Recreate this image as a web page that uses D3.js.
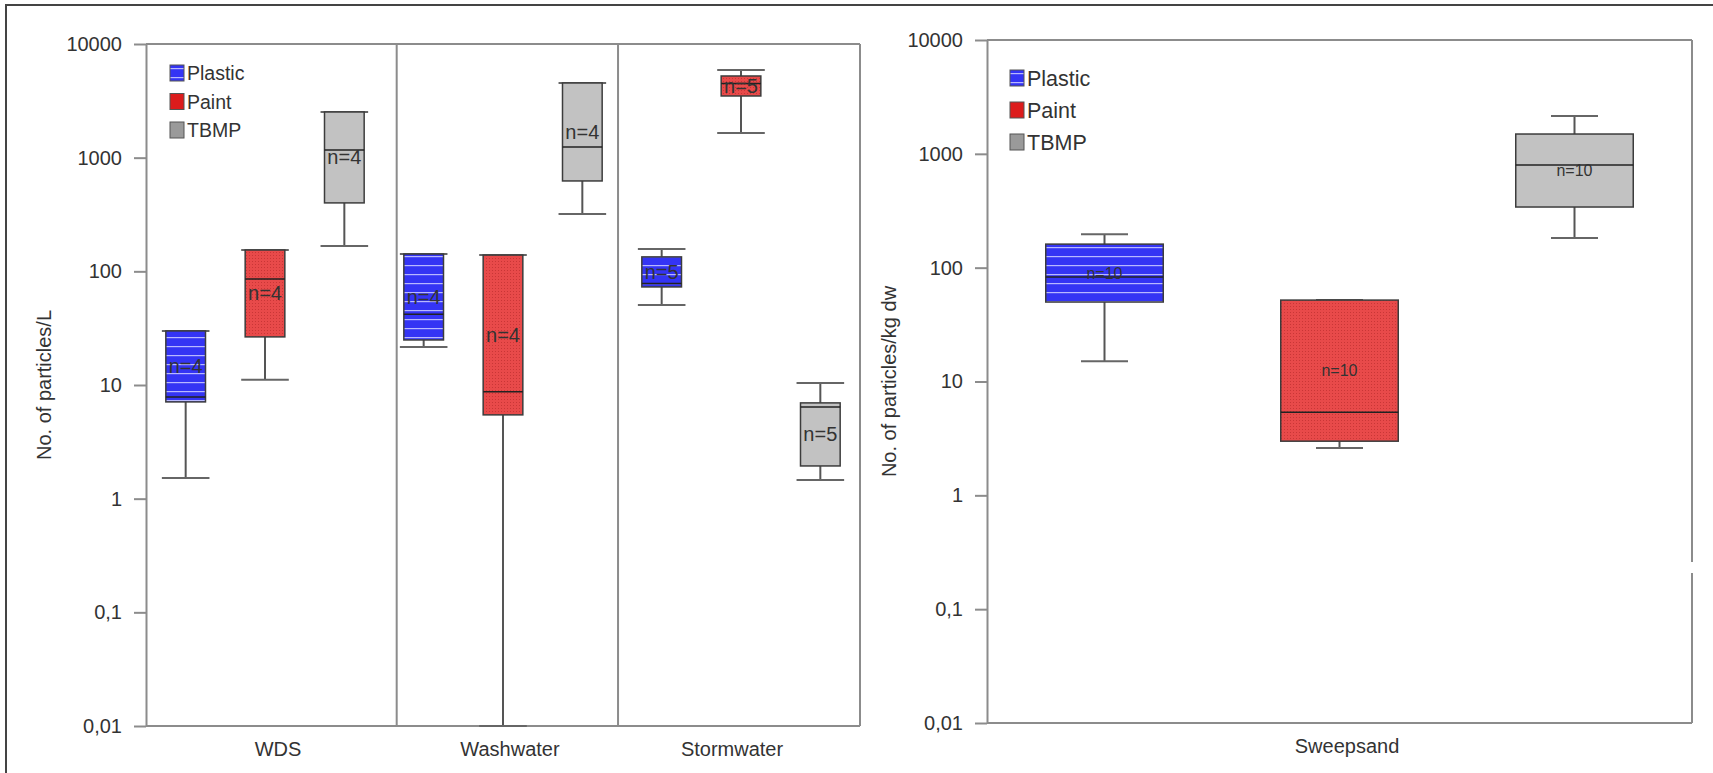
<!DOCTYPE html>
<html>
<head>
<meta charset="utf-8">
<script src="https://cdn.jsdelivr.net/npm/d3@7"></script>
<style>
  body { margin: 0; background: #fff; }
  text { font-family: Arial, "Liberation Sans", sans-serif; fill: #333; }
</style>
</head>
<body>
<div id="chart"></div>
<script>
const WIDTH = 1713
const HEIGHT = 773

// left panel: 3 sites x 3 particle types (No. of particles/L)
const sites = ['WDS', 'Washwater', 'Stormwater'];
const types = ['Plastic', 'Paint', 'TBMP'];
const leftLow    = [1.52, 11.1, 167,   21.6, 0.01, 320,   50.6, 1650, 1.46];
const leftQ1     = [7.1,  26.5, 400,   24.9, 5.46, 624,   72.9, 3489, 1.94];
const leftMedian = [7.86, 85.7, 1169,  42,   8.7,  1242,  78,   4500, 6.4];
const leftQ3     = [29.9, 154,  2523,  142,  139,  4540,  134,  5231, 6.96];
const leftHigh   = [29.9, 154,  2523,  142,  139,  4540,  157,  5908, 10.4];
const leftN      = [4, 4, 4,  4, 4, 4,  5, 5, 5];

// right panel: sweepsand (No. of particles/kg dw)
const rightLow    = [15.1, 2.6,  182];
const rightQ1     = [49.9, 2.99, 341];
const rightMedian = [82.7, 5.38, 797];
const rightQ3     = [161,  51.9, 1493];
const rightHigh   = [197,  51.9, 2148];
const rightN      = [10, 10, 10];

const tickValues = [0.01, 0.1, 1, 10, 100, 1000, 10000];
const fmt = d => String(d).replace('.', ',');

var svg = d3.select("#chart").append("svg")
    .attr("width", WIDTH)
    .attr("height", HEIGHT);

// fill patterns
var defs = svg.append("defs");
var stripes = defs.append("pattern")
    .attr("id", "stripes")
    .attr("patternUnits", "userSpaceOnUse")
    .attr("width", 10).attr("height", 9);
stripes.append("rect").attr("width", 10).attr("height", 9).attr("fill", "#3434f4");
stripes.append("rect").attr("y", 4).attr("width", 10).attr("height", 1.2).attr("fill", "#b8b8ff");

var dots = defs.append("pattern")
    .attr("id", "dots")
    .attr("patternUnits", "userSpaceOnUse")
    .attr("width", 3).attr("height", 3);
dots.append("rect").attr("width", 3).attr("height", 3).attr("fill", "#e84a4a");
dots.append("rect").attr("width", 1).attr("height", 1).attr("fill", "#c93636");

const FILLS = ['url(#stripes)', 'url(#dots)', '#c2c2c2'];
const LEGEND_FILLS = ['url(#stripes)', '#dc1c1c', '#9a9a9a'];

// outer frame
svg.append("rect")
    .attr("x", 6).attr("y", 5)
    .attr("width", WIDTH).attr("height", HEIGHT)
    .attr("fill", "none")
    .attr("stroke", "#444")
    .attr("stroke-width", 2);

const drawPanel = (opt) => {
    var g = svg.append("g");
    var yScale = d3.scaleLog()
        .domain([0.01, 10000])
        .range([opt.bottom, opt.top]);
    var xScale = d3.scaleBand()
        .domain(d3.range(opt.low.length))
        .range([opt.left, opt.right])
        .padding(0);
    var bw = xScale.bandwidth();

    // frame lines (top, right, bottom)
    g.append("line").attr("x1", opt.left).attr("x2", opt.right)
        .attr("y1", opt.top).attr("y2", opt.top);
    g.append("line").attr("x1", opt.left).attr("x2", opt.right)
        .attr("y1", opt.bottom).attr("y2", opt.bottom);
    (opt.rightSegments || [[opt.top, opt.bottom]]).forEach(s => {
        g.append("line").attr("x1", opt.right).attr("x2", opt.right)
            .attr("y1", s[0]).attr("y2", s[1]);
    });
    (opt.separators || []).forEach(s => {
        var x = opt.left + s * bw;
        g.append("line").attr("x1", x).attr("x2", x)
            .attr("y1", opt.top).attr("y2", opt.bottom);
    });
    g.selectAll("line")
        .attr("stroke", "#8c8c8c")
        .attr("stroke-width", 2);

    // y axis
    var axis = g.append("g")
        .attr("transform", `translate(${opt.left},0)`)
        .call(d3.axisLeft(yScale)
            .tickValues(tickValues)
            .tickFormat(fmt)
            .tickSize(12)
            .tickSizeOuter(0)
            .tickPadding(12));
    axis.select(".domain").attr("stroke", "#8c8c8c").attr("stroke-width", 2);
    axis.selectAll(".tick line").attr("stroke", "#8c8c8c").attr("stroke-width", 2);
    axis.selectAll(".tick text")
        .attr("font-size", "20px")
        .attr("font-family", "Arial, 'Liberation Sans', sans-serif")
        .attr("fill", "#333");

    // y label
    g.append("text")
        .attr("transform", `translate(${opt.labelX},${(opt.top + opt.bottom) / 2}) rotate(-90)`)
        .attr("text-anchor", "middle")
        .attr("font-size", "20px")
        .text(opt.yLabel);

    // category labels
    opt.categories.forEach((c, i) => {
        g.append("text")
            .attr("x", opt.categoryX[i])
            .attr("y", opt.bottom + 30)
            .attr("text-anchor", "middle")
            .attr("font-size", "20px")
            .text(c);
    });

    // boxes
    var boxes = g.selectAll("g.box")
        .data(opt.low.map((d, i) => i))
        .enter()
        .append("g")
        .attr("class", "box");

    boxes.each(function(i) {
        var b = d3.select(this);
        var cx = xScale(i) + bw / 2;
        var half = bw * opt.boxWidth / 2;
        var capHalf = bw * opt.capWidth / 2;
        var t = i % 3;
        var yq1 = yScale(opt.q1[i]);
        var yq3 = yScale(opt.q3[i]);

        // whiskers
        [[opt.high[i], opt.q3[i]], [opt.low[i], opt.q1[i]]].forEach(w => {
            b.append("line")
                .attr("x1", cx).attr("x2", cx)
                .attr("y1", yScale(w[0])).attr("y2", yScale(w[1]))
                .attr("stroke", "#555").attr("stroke-width", 2);
            b.append("line")
                .attr("x1", cx - capHalf).attr("x2", cx + capHalf)
                .attr("y1", yScale(w[0])).attr("y2", yScale(w[0]))
                .attr("stroke", "#666").attr("stroke-width", 2);
        });

        b.append("rect")
            .attr("x", cx - half)
            .attr("y", yq3)
            .attr("width", half * 2)
            .attr("height", yq1 - yq3)
            .attr("fill", FILLS[t])
            .attr("stroke", "#3c3c3c")
            .attr("stroke-width", 1.5);

        b.append("line")
            .attr("x1", cx - half).attr("x2", cx + half)
            .attr("y1", yScale(opt.median[i])).attr("y2", yScale(opt.median[i]))
            .attr("stroke", "#222").attr("stroke-width", 1.5);

        b.append("text")
            .attr("x", cx)
            .attr("y", (yq1 + yq3) / 2)
            .attr("dy", "0.35em")
            .attr("text-anchor", "middle")
            .attr("font-size", opt.nFont)
            .attr("font-family", opt.nFamily)
            .attr("fill", "#222")
            .text("n=" + opt.n[i]);
    });

    // legend
    var legendItems = g.selectAll("g.legend")
        .data(types)
        .enter()
        .append("g")
        .attr("class", "legend")
        .attr("transform", (d, i) => `translate(${opt.legendX},${opt.legendY + i * opt.legendStep})`);

    legendItems.append("rect")
        .attr("x", 0).attr("y", -8)
        .attr("width", 14).attr("height", 16)
        .attr("fill", (d, i) => LEGEND_FILLS[i])
        .attr("stroke", "#555")
        .attr("stroke-width", 1);

    legendItems.append("text")
        .attr("x", 17)
        .attr("dy", "0.36em")
        .attr("font-size", opt.legendFont)
        .text(d => d);
};

drawPanel({
    left: 146, right: 860, top: 44, bottom: 726,
    low: leftLow, q1: leftQ1, median: leftMedian, q3: leftQ3, high: leftHigh, n: leftN,
    boxWidth: 0.5, capWidth: 0.6,
    separators: [3.16, 5.95],
    categories: sites, categoryX: [278, 510, 732],
    yLabel: "No. of particles/L", labelX: 51,
    nFont: "20px", nFamily: "Arial, 'Liberation Sans', sans-serif",
    legendX: 170, legendY: 73, legendStep: 28.5, legendFont: "19.5px"
});

drawPanel({
    left: 987, right: 1692, top: 40, bottom: 723,
    low: rightLow, q1: rightQ1, median: rightMedian, q3: rightQ3, high: rightHigh, n: rightN,
    boxWidth: 0.5, capWidth: 0.2,
    rightSegments: [[40, 562], [573, 723]],
    categories: ['Sweepsand'], categoryX: [1347],
    yLabel: "No. of particles/kg dw", labelX: 896,
    nFont: "16px", nFamily: "'Liberation Serif', 'Times New Roman', serif",
    legendX: 1010, legendY: 78, legendStep: 32, legendFont: "21.5px"
});
</script>
</body>
</html>
